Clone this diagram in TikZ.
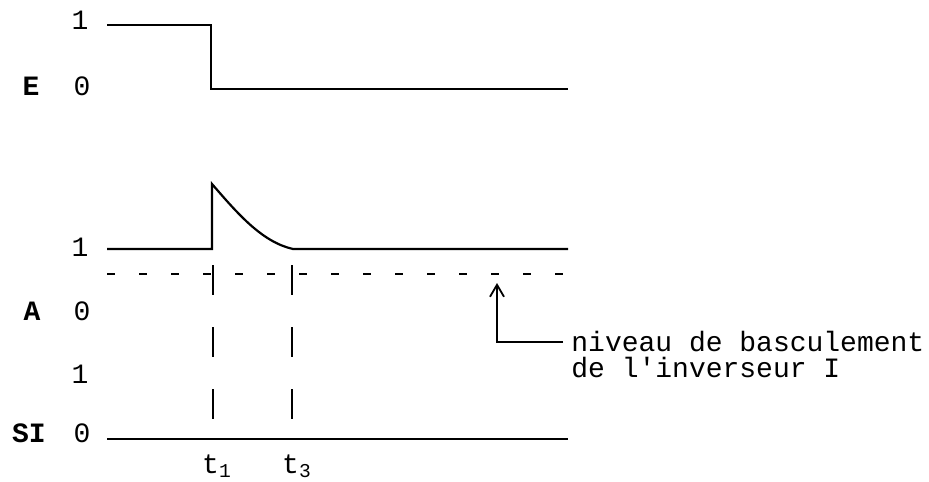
\documentclass[tikz,border=0pt]{standalone}
\usepackage{fontspec}
\setmonofont{Liberation Mono}
\usetikzlibrary{arrows.meta,positioning}

\begin{document}
\begin{tikzpicture}[x=0.5pt,y=-0.5pt,
  lvl/.style={font=\ttfamily\fontsize{14}{16}\selectfont,inner sep=0pt},
  sig/.style={font=\ttfamily\bfseries\fontsize{14}{16}\selectfont,inner sep=0pt},
  wave/.style={line width=1.1pt,line join=miter},
  thres/.style={line width=1pt,dash pattern=on 4pt off 12pt},
  tmark/.style={line width=1pt,dash pattern=on 15pt off 16pt},
  note/.style={font=\ttfamily\fontsize{14}{16}\selectfont,inner sep=0pt,anchor=west}]
\useasboundingbox (0,0) rectangle (929,481);
% signal E
\node[lvl] (e1) at (80,20) {1};
\node[sig] (e) at (31,86) {E};
\node[lvl] (e0) at (82,86) {0};
\draw[wave] (107,25) -- (211,25) -- (211,89) -- (568,89);
% signal A
\node[lvl] (a1) at (80,247) {1};
\node[sig] (a) at (32,311) {A};
\node[lvl] (a0) at (82,311) {0};
\draw[wave] (107,249) -- (212,249) -- (212,184) .. controls (238,214) and (262,242) .. (293,249) -- (568,249);
\draw[thres] (107,274) -- (568,274);
% signal SI
\node[lvl] (s1) at (80,374) {1};
\node[sig] (si) at (29,433) {SI};
\node[lvl] (s0) at (82,433) {0};
\draw[wave] (107,439) -- (568,439);
% time marks
\draw[tmark] (213,265) -- (213,424);
\draw[tmark] (292,265) -- (292,424);
\node[lvl] (t1) at (217,466) {t\textsubscript{1}};
\node[lvl] (t3) at (297,466) {t\textsubscript{3}};
% annotation
\coordinate (thr) at (497,283);
\node[note] (niv1) at (571,342) {niveau de basculement};
\node[note] (niv2) at (571,368) {de l'inverseur I};
\draw[line width=0.9pt,shorten <=4pt,-{Straight Barb[length=6pt,width=7pt]}] (niv1.west) -| (thr);
\end{tikzpicture}
\end{document}
